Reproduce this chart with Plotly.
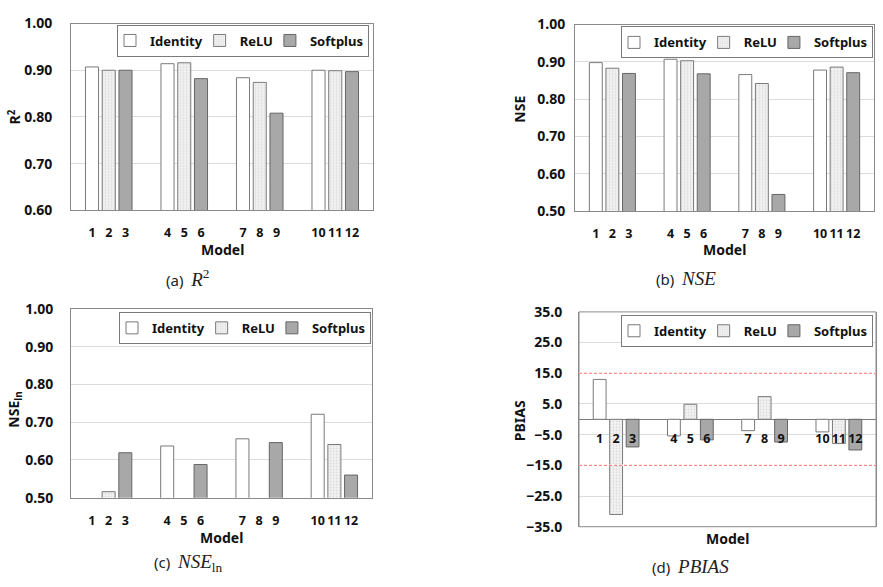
import plotly.graph_objects as go

# ---------------- data ----------------
models = list(range(1, 13))
model_labels = [str(m) for m in models]
activations = ["Identity", "ReLU", "Softplus"]

r2 = [0.907, 0.900, 0.900, 0.914, 0.916, 0.882, 0.884, 0.874, 0.808, 0.900, 0.899, 0.897]
nse = [0.898, 0.883, 0.869, 0.907, 0.903, 0.868, 0.866, 0.842, 0.545, 0.878, 0.886, 0.871]
nse_ln = [None, 0.516, 0.619, 0.637, None, 0.588, 0.656, None, 0.646, 0.721, 0.641, 0.560]
pbias = [13.0, -31.0, -9.0, -5.4, 4.9, -6.7, -3.7, 7.4, -7.4, -4.1, -7.9, -10.0]
pbias_limits = [15, -15]

# ---------------- styling ----------------
W, H = 883, 587
FONT = "Noto Sans"
FRAME = "#8a8a8a"
GRID = "#dcdcdc"
styles = {
    "Identity": dict(color="#ffffff", line=dict(color="#7a7a7a", width=1)),
    "ReLU": dict(color="#eeeeee", line=dict(color="#7a7a7a", width=1),
                 pattern=dict(shape=".", fgcolor="#c4c4c4", bgcolor="#f3f3f3", size=3, solidity=0.3)),
    "Softplus": dict(color="#a8a8a8", line=dict(color="#666666", width=1)),
}

GROUP_SPAN = 4.51
pos = [((m - 1) // 3) * GROUP_SPAN + (m - 1) % 3 for m in models]
xrange_ = [1 - GROUP_SPAN / 2, 3 * GROUP_SPAN + 1 + GROUP_SPAN / 2]


def fx(px):
    return px / W


def fy(py):
    return 1 - py / H


def cap(letter, math):
    return (f"({letter})  <span style='font-family:Liberation Serif;font-size:19px'>{math}</span>")


panels = [
    dict(vals=r2, xd=(71, 373), yd=(14, 207), yr=[0.6, 1.0], dt=0.1, fmt=".2f",
         leg=(369, 15), yt="R<sup>2</sup>", ytp=(15, 110),
         cap=cap("a", "<i>R</i><sup>2</sup>"), capp=(187, 277), mp=247, ys=15),
    dict(vals=nse, xd=(575, 874), yd=(15, 208), yr=[0.5, 1.0], dt=0.1, fmt=".2f",
         leg=(873, 17), yt="NSE", ytp=(520, 103),
         cap=cap("b", "<i>NSE</i>"), capp=(686, 277), mp=248, ys=6),
    dict(vals=nse_ln, xd=(71, 372), yd=(309, 504), yr=[0.5, 1.0], dt=0.1, fmt=".2f",
         leg=(371, 312), yt="NSE<sub>ln</sub>", ytp=(15, 413),
         cap=cap("c", "<i>NSE</i><sub>ln</sub>"), capp=(188, 571), mp=545, ys=14),
    dict(vals=pbias, xd=(579, 876), yd=(312, 534), yr=[-35, 35], dt=10, fmt=".1f",
         leg=(873, 315), yt="PBIAS", ytp=(519, 425),
         cap=cap("d", "<i>PBIAS</i>"), capp=(690, 575), mp=546, ys=13),
]

fig = go.Figure()
annotations = []
shapes = []

for i, p in enumerate(panels):
    n = i + 1
    xa = "x" if n == 1 else f"x{n}"
    ya = "y" if n == 1 else f"y{n}"
    lg = "legend" if n == 1 else f"legend{n}"
    for k, act in enumerate(activations):
        xs = [pos[j] for j in range(12) if j % 3 == k]
        ys = [p["vals"][j] for j in range(12) if j % 3 == k]
        fig.add_trace(go.Bar(
            x=xs, y=ys, name=act, marker=styles[act], width=0.78,
            xaxis=xa, yaxis=ya, legend=lg, showlegend=True,
            hoverinfo="x+y",
        ))

    xdom = [fx(p["xd"][0]), fx(p["xd"][1])]
    ydom = [fy(p["yd"][1]), fy(p["yd"][0])]
    is_d = (n == 4)

    xaxis = dict(domain=xdom, range=xrange_, tickvals=pos, ticktext=model_labels,
                 tickangle=0, showgrid=False, zeroline=False, ticks="",
                 tickfont=dict(family=FONT, size=12.5, color="#111", weight="bold"),
                 ticklabelstandoff=11, fixedrange=True)
    yaxis = dict(domain=ydom, range=p["yr"], dtick=p["dt"], tick0=p["yr"][0], tickformat=p["fmt"],
                 showgrid=True, gridcolor=GRID, gridwidth=1, ticks="",
                 showline=True, linecolor=FRAME, linewidth=1, mirror=True,
                 tickfont=dict(family=FONT, size=14, color="#111", weight="bold"),
                 ticklabelstandoff=p["ys"], fixedrange=True)
    if is_d:
        zero_frac = (0 - p["yr"][0]) / (p["yr"][1] - p["yr"][0])
        xaxis.update(anchor="free", position=ydom[0] + zero_frac * (ydom[1] - ydom[0]),
                     showline=False, ticklabelstandoff=10)
        yaxis.update(anchor=xa, zeroline=True, zerolinecolor="#7a7a7a", zerolinewidth=1)
        shapes.append(dict(type="rect", xref=f"{xa} domain", yref=f"{ya} domain",
                           x0=0, x1=1, y0=0, y1=1, line=dict(color=FRAME, width=1),
                           fillcolor="rgba(0,0,0,0)", layer="above"))
        for lim in pbias_limits:
            shapes.append(dict(type="line", xref=f"{xa} domain", yref=ya, x0=0, x1=1,
                               y0=lim, y1=lim, line=dict(color="white", width=1.5),
                               layer="above"))
            shapes.append(dict(type="line", xref=f"{xa} domain", yref=ya, x0=0, x1=1,
                               y0=lim, y1=lim, line=dict(color="#ff6b6b", width=1, dash="3px,2px"),
                               layer="above"))
    else:
        xaxis.update(anchor=ya, showline=True, linecolor=FRAME, linewidth=1, mirror=True)
        yaxis.update(anchor=xa, zeroline=False)

    fig.layout[("xaxis" if n == 1 else f"xaxis{n}")] = xaxis
    fig.layout[("yaxis" if n == 1 else f"yaxis{n}")] = yaxis

    fig.layout[lg] = dict(
        orientation="h", x=fx(p["leg"][0]), y=fy(p["leg"][1]), xanchor="right", yanchor="top",
        bgcolor="white", bordercolor="#7a7a7a", borderwidth=1,
        font=dict(family=FONT, size=13, color="#111", weight="bold"),
        itemwidth=30, indentation=-8, traceorder="normal", tracegroupgap=0,
    )

    annotations.append(dict(text=p["yt"], xref="paper", yref="paper",
                            x=fx(p["ytp"][0]), y=fy(p["ytp"][1]), textangle=-90,
                            showarrow=False, xanchor="center", yanchor="middle",
                            font=dict(family=FONT, size=14, color="#111", weight="bold")))
    annotations.append(dict(text="Model", xref=f"{xa} domain", yref="paper",
                            x=0.5, y=fy(p["mp"]), showarrow=False,
                            xanchor="center", yanchor="middle",
                            font=dict(family=FONT, size=14, color="#111", weight="bold")))
    annotations.append(dict(text=p["cap"], xref="paper", yref="paper",
                            x=fx(p["capp"][0]), y=fy(p["capp"][1]), showarrow=False,
                            xanchor="center", yanchor="middle",
                            font=dict(family=FONT, size=15, color="#222")))

fig.update_layout(
    width=W, height=H, margin=dict(l=0, r=0, t=0, b=0),
    paper_bgcolor="white", plot_bgcolor="white",
    barmode="overlay", annotations=annotations, shapes=shapes,
    showlegend=True,
)

fig.write_html("out.html", config={"displayModeBar": False},
               post_script="document.body.style.margin='0';document.body.style.overflow='hidden';")
